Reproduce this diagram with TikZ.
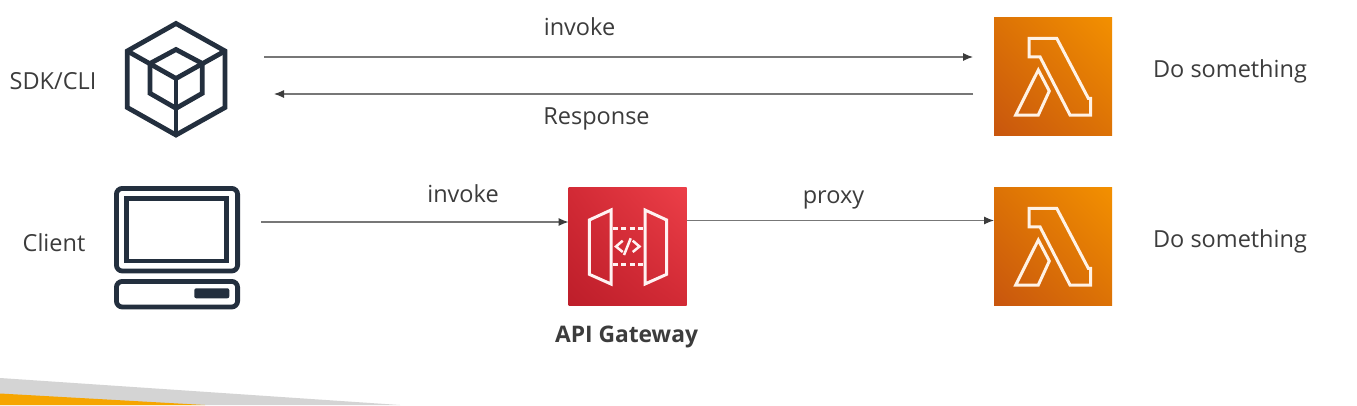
\documentclass[tikz,border=0pt]{standalone}
\usepackage{fontspec}
\setmainfont{Open Sans}
\usetikzlibrary{arrows.meta,shadings}
\definecolor{ink}{HTML}{232F3E}
\definecolor{txt}{HTML}{3C3C3C}
\definecolor{wire}{HTML}{777777}
\definecolor{lamD}{HTML}{C8560E}
\definecolor{lamM}{HTML}{DC7206}
\definecolor{lamL}{HTML}{F39000}
\definecolor{apiD}{HTML}{BD1E2A}
\definecolor{apiM}{HTML}{D22A35}
\definecolor{apiL}{HTML}{EC3F48}
\definecolor{stripgray}{HTML}{D4D4D4}
\definecolor{striporange}{HTML}{F6A500}
\tikzset{
  lbl/.style={font=\fontsize{23.5}{26}\selectfont,text=txt,anchor=base,inner sep=0pt},
  wirearrow/.style={draw=wire,line width=1.1pt,-{Latex[length=10pt,width=8pt,color=txt]}},
  iconline/.style={draw=ink,line width=4.8pt,line join=miter},
  iconarea/.style={minimum width=118pt,minimum height=118pt,inner sep=0pt,outer sep=0pt},
  lambdabox/.style={iconarea,lower left=lamD,upper right=lamL,upper left=lamM,lower right=lamM},
  apibox/.style={iconarea,lower left=apiD,upper right=apiL,upper left=apiM,lower right=apiM},
  glyph/.style={draw=white!90!orange,line width=3pt,line join=miter},
  apiglyph/.style={draw=white!95!red,line width=3pt,line join=miter},
  lambdaglyph/.pic={
    \draw[glyph] (-24,-20) -- (3.7,-20) -- (35.3,40) -- (37.7,40) -- (37.7,56.7) -- (17,56.7) -- (-13,-1.5) -- (-24,-1.5) -- cycle;
    \draw[glyph] (-14.7,11.7) -- (-3.7,32.7) -- (-14.7,56.7) -- (-37.3,56.7) -- cycle;
  },
}
\begin{document}
\begin{tikzpicture}[x=1pt,y=-1pt]
\useasboundingbox[fill=white] (0,0) rectangle (1357,405);
% corner strip
\fill[stripgray] (0,378) -- (400,405) -- (0,405) -- cycle;
\fill[striporange] (0,393.5) -- (205,405) -- (0,405) -- cycle;

% icon placeholders
\node[minimum width=98pt,minimum height=112pt,inner sep=0pt] (cube) at (176,79) {};
\node[minimum width=123pt,minimum height=120pt,inner sep=0pt] (client) at (177,247.5) {};
\node[lambdabox] (lam1) at (1053,76.7) {};
\node[lambdabox] (lam2) at (1053,246.7) {};
\node[apibox] (api) at (627.5,246.7) {};

% cube
\draw[iconline] (176,23.5) -- (225,51) -- (225,107.5) -- (176,135) -- (127.3,107.5) -- (127.3,51) -- cycle;
\draw[iconline] (176,49.5) -- (202.3,63.5) -- (202.3,93.3) -- (176,108.3) -- (150,93.3) -- (150,63.5) -- cycle;
\draw[iconline] (127.3,51) -- (176,78.5) -- (225,51);
\draw[iconline] (176,78.5) -- (176,135);

% client
\draw[iconline,rounded corners=6pt] (116.4,188.4) rectangle (237.6,271);
\draw[iconline] (126.8,198.5) rectangle (226.8,261);
\draw[iconline,rounded corners=6pt] (116.4,281.4) rectangle (237.6,307);
\fill[ink,rounded corners=2pt] (194.3,288.3) rectangle (229.3,298.3);

% lambda glyphs
\pic at (1053,58.3) {lambdaglyph};
\pic at (1053,228.3) {lambdaglyph};

% api glyph
\draw[apiglyph] (589.3,220) -- (611,210) -- (611,284) -- (589.3,274.3) -- cycle;
\draw[apiglyph] (645,210) -- (666.7,220) -- (666.7,274.3) -- (645,284) -- cycle;
\draw[apiglyph,dash pattern=on 5pt off 3.5pt] (612.5,228.5) -- (645,228.5);
\draw[apiglyph,dash pattern=on 5pt off 3.5pt] (612.5,264.5) -- (645,264.5);
\draw[apiglyph,line width=2.5pt] (622.7,240.7) -- (616,246.5) -- (622.7,252);
\draw[apiglyph,line width=2.5pt] (632.7,240.7) -- (639.5,246.5) -- (632.7,252);
\draw[apiglyph,line width=2.5pt] (630.7,238.3) -- (624,255);

% connectors
\coordinate (a1s) at (264,57);
\coordinate (a1e) at (973,57);
\coordinate (a2s) at (973,94);
\coordinate (a2e) at (274,94);
\coordinate (a3s) at (261,222);
\draw[wirearrow] (a1s) -- (a1e);
\draw[wirearrow] (a2s) -- (a2e);
\draw[wirearrow] (a3s) -- (api.west |- a3s);
\draw[wirearrow] (api.east |- 0,220.5) -- (lam2.west |- 0,220.5);

% labels
\node[lbl] (t1) at (579.5,35) {invoke};
\node[lbl] (t2) at (596.5,124) {Response};
\node[lbl] (t3) at (53,89) {SDK/CLI};
\node[lbl] (t4) at (54,251) {Client};
\node[lbl] (t5) at (463,202) {invoke};
\node[lbl] (t6) at (833.5,203) {proxy};
\node[lbl] (t7) at (1230,77) {Do something};
\node[lbl] (t8) at (1230,247) {Do something};
\node[lbl,font=\fontsize{22.8}{26}\selectfont\bfseries] (t9) at (626.5,342) {API Gateway};
\end{tikzpicture}
\end{document}
